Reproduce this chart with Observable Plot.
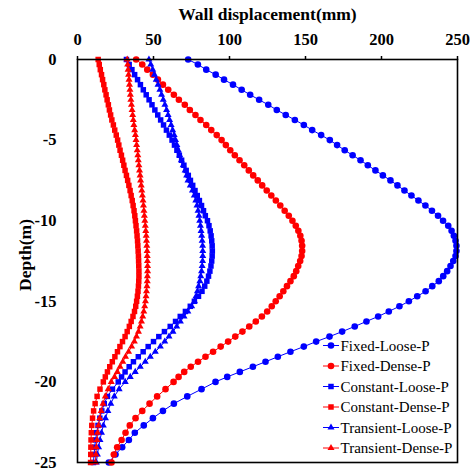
<!DOCTYPE html>
<html><head><meta charset="utf-8">
<script src="https://cdn.jsdelivr.net/npm/d3@7"></script>
<script src="https://cdn.jsdelivr.net/npm/@observablehq/plot@0.6"></script>
<style>
html,body{margin:0;padding:0;background:#fff;}
#wrap{position:relative;width:474px;height:470px;}
#wrap svg text{font-family:'Liberation Serif','Times New Roman',serif;}
#legend{position:absolute;left:0;top:0;pointer-events:none;}
</style></head><body><div id="wrap"></div>
<script>
// Depth of each node (m)
const depth=[0,-0.31,-0.63,-0.94,-1.25,-1.56,-1.88,-2.19,-2.5,-2.81,-3.13,-3.44,-3.75,-4.06,-4.38,-4.69,
-5,-5.31,-5.63,-5.94,-6.25,-6.56,-6.88,-7.19,-7.5,-7.81,-8.13,-8.44,-8.75,-9.06,-9.38,-9.69,
-10,-10.31,-10.63,-10.94,-11.25,-11.56,-11.88,-12.19,-12.5,-12.81,-13.13,-13.44,-13.75,-14.06,-14.38,-14.69,
-15,-15.31,-15.63,-15.94,-16.25,-16.56,-16.88,-17.19,-17.5,-17.81,-18.13,-18.44,-18.75,-19.06,-19.38,-19.69,
-20,-20.45,-20.9,-21.35,-21.8,-22.25,-22.7,-23.15,-23.6,-24.05,-24.5,-25];

// Wall displacement (mm)
const fixedLoose=[72.8,79.2,84.7,90.9,96.4,102.3,108,113.6,119.5,125.5,131.1,137,143,148.9,154.4,160.3,
166,170.8,175.8,181,186.2,191,196,200.9,205.9,210.5,215.1,219.7,224.3,228.9,233.2,237.2,
240.5,243.9,246.1,247.6,248.7,249.3,249.3,248.7,247.2,245.4,243.2,240.6,237.7,233.4,229,223.5,
218,211.8,204.8,197.8,190.1,182.4,174.1,165.8,157,148.9,140.1,131.8,123.7,115.4,106.8,98.5,
90.8,81.6,72.2,63.4,56.2,49.6,43.6,37.7,33.8,29.4,25,20.6];
const fixedDense=[38.6,42.6,45.9,49.6,52.9,56.2,59.7,63.4,66.7,70.6,73.9,77.6,80.9,84.7,88,91.6,
94.8,97.6,100.5,103.5,106.6,109.7,112.7,115.6,118.6,121.5,124.5,127.5,130.5,133.4,136.3,139,
141.4,143.6,145.3,146.6,147.4,147.8,147.8,147.4,146.5,145.2,143.9,142.3,140.1,137.8,135.4,133,
130.4,127.8,124.8,121.3,117.3,113,108.5,103.8,99.1,94.2,89.2,84.2,79.3,74.5,70.2,66.5,
63.2,57.9,52.4,47.4,42.6,38.2,34.4,31.6,29,26.1,23.9,22.4];
const constantLoose=[32.2,34,35.8,37.6,39.5,41.4,43.3,45.2,47.1,49,50.9,52.8,54.7,56.6,58.5,60.4,
62.2,63.8,65.4,67,68.5,70,71.5,72.9,74.3,75.8,77.3,78.8,80.2,81.6,82.9,84.1,
85.5,86.5,87.3,87.9,88.3,88.6,88.7,88.6,88.3,87.8,87.1,86.2,85.1,83.7,81.9,79.6,
76.9,74.2,71,67.6,64.5,61,57.2,53.5,50,46.5,43.2,40,36.8,34,31.3,29,
26.8,23,19.7,17.6,16,14.7,13.5,12.6,11.9,11.3,10.9,10.5];
const constantDense=[13.6,14.3,15,15.8,16.5,17.3,18,18.8,19.5,20.3,21,21.8,22.6,23.6,24.5,25.5,
26.4,27.2,28,28.9,29.7,30.5,31.3,32.2,33,33.8,34.6,35.3,36,36.6,37.2,37.7,
38.1,38.5,38.9,39.2,39.5,39.7,39.9,40.1,40.2,40.3,40.4,40.4,40.3,40.1,39.8,39.4,
38.9,38.3,37.5,36.5,35.3,34.1,32.7,31.3,29.6,27.9,26.3,24.6,22.9,21.2,19.7,18.3,
17,14.8,12.9,11.6,10.6,9.9,9.4,9.1,8.9,8.8,8.7,8.6];
const transientLoose=[47,48.2,49.5,50.6,51.8,53,54.2,55.3,56.4,57.5,58.6,59.6,60.6,61.6,62.6,63.6,
64.5,65.4,66.3,67.3,68.3,69.5,70.8,71.8,72.7,74.2,75.6,76.8,77.8,78.6,79.3,79.9,
80.4,80.9,81.3,81.7,82,82.3,82.4,82.4,82.3,82,81.6,81.1,80.5,79.7,78.9,78,
77,75.1,72.6,70.1,67.7,65.3,62.8,60.2,57.4,54.5,51.2,47.9,44.6,41.3,38,34.7,
31.4,27.4,24.2,21.9,20,18.4,17,15.8,14.8,13.9,13.1,12.4];
const transientDense=[32.7,33,33.3,33.6,33.9,34.2,34.5,34.8,35.1,35.5,35.9,36.3,36.7,37.1,37.6,38.1,
38.5,38.9,39.3,39.7,40,40.4,40.8,41.2,41.5,41.9,42.3,42.7,43.1,43.4,43.7,44,
44.3,44.6,44.9,45.2,45.4,45.6,45.8,45.9,46,46.1,46.1,46,45.9,45.7,45.4,45.1,
44.7,44.2,43.6,42.9,42.1,41.2,40.1,38.8,37.4,35.6,33.6,31.6,29.8,28,26.2,24.4,
22.2,20.2,18.3,16.8,15.6,14.6,13.8,13.2,12.8,12.4,12.1,11.8];

const seriesNames=["Fixed-Loose-P","Fixed-Dense-P","Constant-Loose-P","Constant-Dense-P","Transient-Loose-P","Transient-Dense-P"];
const seriesValues=[fixedLoose,fixedDense,constantLoose,constantDense,transientLoose,transientDense];
const seriesColors=["#0000ff","#ff0000","#0000ff","#ff0000","#0000ff","#ff0000"];
const seriesSymbols=["circle","circle","square","square","triangle","triangle"];
const seriesR=[3.3,3.3,3.1,3.1,2.6,2.6];

const xTicks=[0,50,100,150,200,250];
const yTicks=[0,-5,-10,-15,-20,-25];
const xLabel="Wall displacement(mm)";
const yLabel="Depth(m)";
const serif="'Liberation Serif','Times New Roman',serif";

const seriesMarks=seriesNames.flatMap((name,i)=>{
  const rows=depth.map((d,j)=>({series:name,depth:d,value:seriesValues[i][j]}));
  return [
    Plot.line(rows,{x:"value",y:"depth",stroke:seriesColors[i],strokeWidth:1}),
    Plot.dot(rows,{x:"value",y:"depth",fill:seriesColors[i],symbol:seriesSymbols[i],r:seriesR[i],stroke:"none"})
  ];
});

const chart=Plot.plot({
  width:474,height:470,
  marginLeft:77,marginRight:17,marginTop:59,marginBottom:8,
  x:{domain:[0,250]},
  y:{domain:[-25,0]},
  style:{fontFamily:serif,color:"#000",background:"#fff",overflow:"visible"},
  marks:[
    ...seriesMarks,
    Plot.frame({stroke:"#000",strokeWidth:1.6}),
    Plot.axisX({anchor:"top",ticks:xTicks,tickSize:4,tickPadding:11,strokeWidth:1.5,fontFamily:serif,fontSize:16.5,fontWeight:"bold",tickFormat:d=>String(d),label:null}),
    Plot.axisY({anchor:"left",ticks:yTicks,tickSize:0,tickPadding:21,fontFamily:serif,fontSize:16.5,fontWeight:"bold",tickFormat:d=>String(d),label:null}),
    Plot.text([xLabel],{text:d=>d,frameAnchor:"top",dy:-40,lineAnchor:"bottom",textAnchor:"middle",fontFamily:serif,fontSize:17.5,fontWeight:"bold"}),
    Plot.text([yLabel],{text:d=>d,frameAnchor:"left",dx:-52,dy:-6,rotate:-90,textAnchor:"middle",lineAnchor:"middle",fontFamily:serif,fontSize:17.5,fontWeight:"bold"})
  ]
});
const wrap=document.getElementById("wrap");
wrap.appendChild(chart);

// Legend overlay
const symMap={circle:d3.symbolCircle,square:d3.symbolSquare,triangle:d3.symbolTriangle};
const leg=d3.select(wrap).append("svg").attr("id","legend").attr("width",474).attr("height",470);
seriesNames.forEach((name,i)=>{
  const cy=345.5+i*20.5;
  const g=leg.append("g").attr("transform",`translate(0,${cy})`);
  g.append("line").attr("x1",323).attr("x2",339).attr("y1",0).attr("y2",0).attr("stroke",seriesColors[i]).attr("stroke-width",1);
  g.append("path").attr("transform","translate(331,0)").attr("d",d3.symbol(symMap[seriesSymbols[i]],Math.PI*seriesR[i]*seriesR[i])()).attr("fill",seriesColors[i]);
  g.append("text").attr("x",340.5).attr("y",5).attr("font-family",serif).attr("font-size",15).attr("fill","#000").text(name);
});
</script></body></html>
